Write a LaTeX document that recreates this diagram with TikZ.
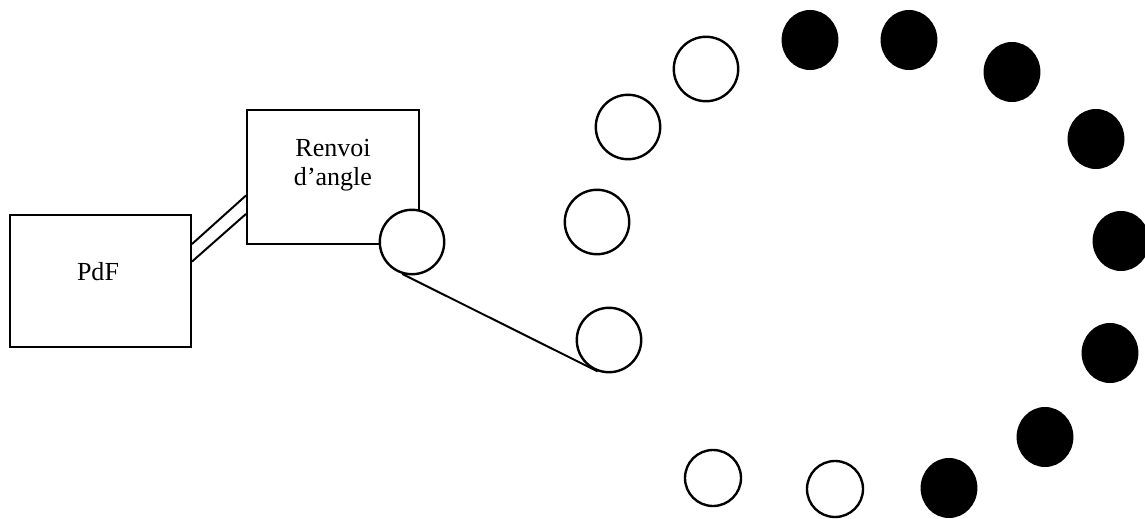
\documentclass[tikz,border=0pt]{standalone}
\usepackage{fontspec}
\setmainfont{Liberation Serif}
\usetikzlibrary{shapes.geometric}

\begin{document}
\begin{tikzpicture}[x=0.025cm,y=-0.025cm,line width=1.4pt,
  boite/.style={draw,rectangle,inner sep=0pt},
  texte/.style={font=\fontsize{18.5}{20.5}\selectfont,align=center,inner sep=0pt},
  roue/.style={draw,circle,line width=1.7pt,fill=white,minimum size=1.61cm,inner sep=0pt},
  petite/.style={roue,minimum size=1.4cm},
  bille/.style={ellipse,fill=black,minimum width=1.42cm,minimum height=1.5cm,inner sep=0pt}]
  \useasboundingbox (0,0) rectangle (1145,519);
  % boites
  \node[boite,minimum width=4.525cm,minimum height=3.3cm] (pdf) at (100.5,281) {};
  \node[texte] (pdftxt) at (98,272) {PdF};
  \node[boite,minimum width=4.3cm,minimum height=3.35cm] (renvoi) at (333,177) {};
  \node[texte] (renvoitxt) at (333,165) {Renvoi\\d'angle};
  % arbre de transmission
  \draw (pdf.22) -- (renvoi.192.5);
  \draw (pdf.12) -- (renvoi.203);
  % poulie et courroie
  \node[roue] (poulie) at (412,242) {};
  \node[roue] (o1) at (609,340) {};
  \draw (poulie.-107) -- (o1.-110);
  % cercles vides
  \foreach \x/\y [count=\i from 2] in {597/222,628/127,706/69}
    \node[roue] (o\i) at (\x,\y) {};
  \node[petite] (o5) at (713,478) {};
  \node[petite] (o6) at (835,489) {};
  % cercles pleins
  \foreach \x/\y [count=\i] in {810/40,909/40,1012/72,1096/139,1121/241,1110/353,1045/437,949/488}
    \node[bille] (b\i) at (\x,\y) {};
\end{tikzpicture}
\end{document}
